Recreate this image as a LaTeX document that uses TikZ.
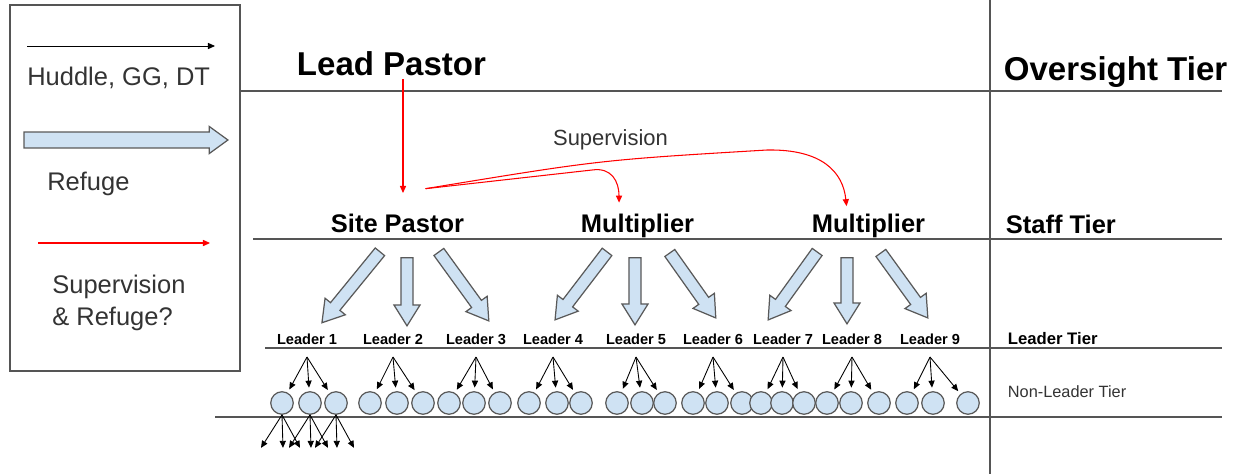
\documentclass[tikz,border=0pt]{standalone}
\usepackage{fontspec}
\setmainfont{Liberation Sans}
\usepackage{tikz}
\usetikzlibrary{arrows.meta,calc,shapes.arrows}
\definecolor{refugeblue}{HTML}{CFE2F3}
\definecolor{edgegray}{HTML}{595959}
\definecolor{linegray}{HTML}{555555}
\definecolor{textgray}{HTML}{333333}
\definecolor{suprred}{HTML}{FF0000}
\tikzset{lbl/.style={inner sep=2pt,anchor=base},tierline/.style={draw=linegray,line width=0.8pt},huddle/.style={-{Triangle[length=4pt,width=3.5pt]},draw=black,line width=0.5pt},sup/.style={-{Triangle[length=4pt,width=3.5pt]},draw=suprred,line width=0.6pt},refugearr/.style={single arrow,draw=edgegray,fill=refugeblue,line width=0.7pt,inner xsep=0pt,inner ysep=3.1pt,single arrow head extend=4pt,single arrow tip angle=64,outer sep=0pt},refuge/.style={to path={let \p1=(\tikztostart),\p2=(\tikztotarget),\n1={veclen(\x2-\x1,\y2-\y1)} in (\p1) -- (\p2) node[midway,sloped,allow upside down,refugearr,minimum height=\n1]{}}},member/.style={circle,draw=edgegray,fill=refugeblue,line width=0.7pt,minimum size=12.8pt,inner sep=0pt}}

\begin{document}
\begin{tikzpicture}[x=0.02cm,y=-0.02cm,big/.style={lbl,font=\fontsize{18.8}{22}\selectfont\bfseries},staff/.style={lbl,font=\fontsize{14.5}{17}\selectfont\bfseries},legend/.style={anchor=base west,inner sep=0pt,text=textgray,font=\fontsize{14.5}{18}\selectfont},leader/.style={lbl,font=\fontsize{8.3}{10}\selectfont\bfseries}]
\useasboundingbox (0,0) rectangle (1241,474);
% legend box
\draw[draw=linegray,line width=0.8pt] (10,5) rectangle (240,371);
\coordinate (hk1) at (27,46);\coordinate (hk2) at (215,46);
\draw[huddle] (hk1)--(hk2);
\node[legend] (hud) at (27,85) {Huddle, GG, DT};
\node[refugearr,inner ysep=4.2pt,single arrow head extend=3.2pt,single arrow tip angle=72,minimum height=116pt] (key) at (120.5,140) {};
\node[legend] (ref) at (47,190) {Refuge};
\coordinate (sk1) at (38,243);\coordinate (sk2) at (210,243);
\draw[sup] (sk1)--(sk2);
\node[legend,anchor=north west,align=left] (sr) at (52,275) {Supervision\\\& Refuge?};
% tiers
\draw[tierline] (990,0)--(990,474);
\draw[tierline] (240,91)--(1222,91);\draw[tierline] (253,239)--(1222,239);
\draw[tierline] (265,348)--(1222,348);\draw[tierline] (215,417)--(1222,417);
\node[big,anchor=base west] (ov) at (1000,80) {Oversight Tier};
\node[staff,anchor=base west] (st) at (1002,233) {Staff Tier};
\node[lbl,anchor=base west,font=\fontsize{9.5}{11}\selectfont\bfseries] (lt) at (1004,344) {Leader Tier};
\node[lbl,anchor=base west,text=textgray,font=\fontsize{9.3}{11}\selectfont] (nl) at (1004,397) {Non-Leader Tier};
% people
\node[big] (lp) at (391.5,75) {Lead Pastor};
\node[staff] (sp) at (397.5,232) {Site Pastor};
\node[staff] (m1) at (637.5,232) {Multiplier};
\node[staff] (m2) at (868.5,232) {Multiplier};
\foreach \x [count=\i] in {307,393,476,553,636,713,783,852,930}{
  \node[leader] (l\i) at (\x,344) {Leader \i};
  \coordinate (r\i) at (\x,357);}
\foreach \x [count=\i] in {282,310,336,370,397,423,449,474,500,529,557,581,617,642,665,693,717,742,761,782,804,827,851,879,907,933,968}
  \node[member] (c\i) at (\x,403) {};
% refuge
\foreach \tx/\ty/\hx/\hy [count=\i] in {383/248/325/319,407/253/407/321,436/248/486/317,610/248/558/316,635/253/635/320,667/249/713/314,820/248/771/316,847/253/847/319,878/249/925/314}{
  \coordinate (rt\i) at (\tx,\ty);
  \coordinate (rh\i) at (\hx,\hy);
  \path[refuge] (rt\i) to (rh\i);}
% huddles
\foreach \g in {1,...,9}
  \foreach \k in {1,2,3}{
    \pgfmathtruncatemacro\idx{3*\g-3+\k}
    \draw[huddle,shorten >=2pt] (r\g)--(c\idx);}
\foreach \i in {1,2,3}
  \foreach \dx [count=\k] in {-21,1,18}{
    \coordinate (d\i-\k) at ($(c\i.south)+(\dx,33)$);
    \draw[huddle] (c\i.south)--(d\i-\k);}
% supervision
\draw[sup,shorten >=9.5pt] ($(lp.south)+(11.5,0)$) coordinate (lpx)--(lpx |- sp.north);
\coordinate (svs) at ($(sp.north)+(28,-21)$);
\draw[sup] (svs)--(592,170) .. controls (612,167) and (619,182) .. ([xshift=-10.5pt,yshift=4pt]m1.north);
\draw[sup] (svs) .. controls (600,160) .. (767,150) .. controls (822,149) and (843,172) .. ([xshift=-12.5pt,yshift=2pt]m2.north);
\node[lbl,text=textgray,font=\fontsize{12.5}{15}\selectfont] (svl) at (610.5,145) {Supervision};
\end{tikzpicture}
\end{document}
